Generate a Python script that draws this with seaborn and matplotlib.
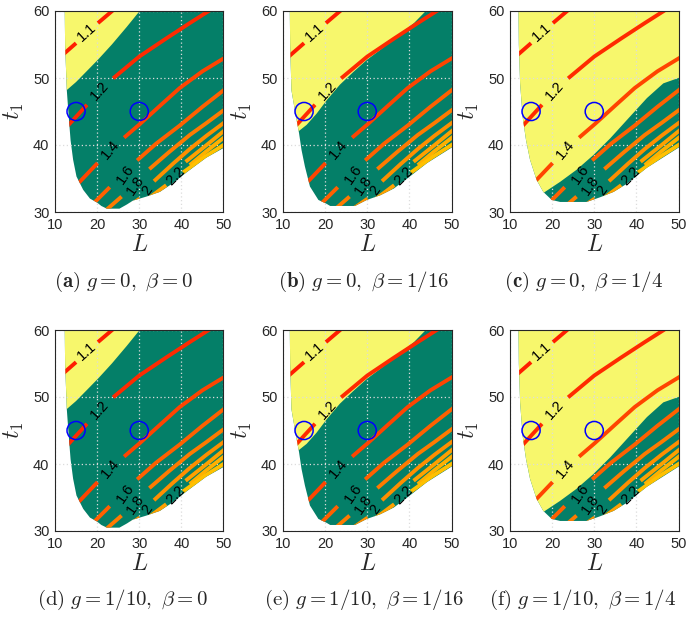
import matplotlib
matplotlib.use("Agg")
import numpy as np
import pandas as pd
import seaborn as sns
from matplotlib import pyplot as plt
from matplotlib.patches import Polygon

# contour segments (L, t1); gaps are where the labels sit
c1_1 = [[(11.0, 53.0), (15.0, 55.2)], [(20.2, 58.2), (24.5, 60.5)]]
c1_2 = [[(12.5, 42.5), (17.6, 46.0)],
        [(23.8, 49.95), (30.0, 53.2), (36.4, 55.9), (42.0, 58.2), (47.5, 60.4)]]
c1_4 = [[(14.5, 33.6), (20.1, 37.3)],
        [(26.4, 41.1), (30.1, 43.1), (35.0, 45.9), (39.6, 48.5), (45.0, 51.0), (50.5, 53.1)]]
c1_6 = [[(18.2, 30.7), (23.0, 33.7)],
        [(29.5, 37.7), (34.0, 40.2), (39.6, 42.9), (45.0, 45.7), (50.5, 48.4)]]
c1_8 = [[(21.6, 30.0), (25.8, 32.3)],
        [(32.4, 36.4), (37.0, 38.9), (42.0, 41.5), (46.0, 43.3), (50.5, 45.4)]]
c2_0 = [[(26.0, 30.2), (30.1, 32.0)],
        [(33.5, 34.6), (38.0, 37.2), (42.0, 39.4), (46.0, 41.4), (50.5, 43.5)]]
c2_2 = [[(31.5, 31.7), (36.4, 34.0)], [(41.0, 37.5), (46.0, 40.0), (50.5, 42.3)]]
c2_4 = [[(42.0, 37.0), (46.0, 39.1), (50.5, 41.3)]]
c2_6 = [[(40.4, 35.9), (45.5, 38.2), (50.5, 40.2)]]

level_names = ["1.1", "1.2", "1.4", "1.6", "1.8", "2", "2.2", "2.4", "2.6"]
level_colors = ["#ff1e00", "#ff2a00", "#ff4400", "#ff6000", "#ff7a00",
                "#ff8e00", "#ffa000", "#ffb000", "#ffc000"]

label_txt = ["1.1", "1.2", "1.4", "1.6", "1.8", "2", "2.2"]
label_L = [17.6, 20.7, 23.2, 26.6, 29.0, 31.9, 38.6]
label_t = [56.8, 48.1, 39.3, 35.6, 34.0, 33.2, 35.4]
label_rot = [42, 48, 50, 55, 55, 55, 45]

# feasible region outline per column (left edge top->bottom, then bottom edge)
dom1_L = [12.3, 12.4, 12.8, 13.2, 13.7, 14.3, 15.1, 16.7, 18.3, 20.0, 21.0, 22.3, 25.3, 27.0, 28.5, 31.7, 34.9, 38.0, 41.2, 45.9, 50.0, 51.0, 51.0]
dom1_t = [61.0, 55.0, 48.2, 44.7, 40.7, 37.8, 35.3, 33.3, 32.0, 31.4, 30.9, 30.5, 30.5, 31.1, 31.7, 32.3, 33.0, 34.3, 35.9, 38.1, 39.55, 40.0, 61.0]
dom2_L = [11.6, 11.7, 12.0, 13.0, 13.8, 14.4, 15.2, 16.4, 18.4, 20.4, 21.2, 27.1, 29.9, 33.1, 36.3, 39.5, 44.2, 50.0, 51.0, 51.0]
dom2_t = [61.0, 55.0, 48.2, 44.5, 41.8, 39.25, 36.8, 33.8, 31.8, 31.2, 30.9, 30.9, 31.8, 32.5, 33.5, 35.0, 37.3, 39.6, 40.0, 61.0]
dom3_L = [12.0, 12.1, 12.4, 13.0, 13.8, 14.75, 16.3, 17.9, 19.9, 21.9, 28.2, 31.4, 34.6, 37.7, 42.5, 50.0, 51.0, 51.0]
dom3_t = [61.0, 55.0, 49.2, 44.2, 40.75, 37.8, 34.8, 33.0, 31.8, 31.5, 31.5, 32.2, 33.0, 34.2, 36.6, 39.6, 40.0, 61.0]

# yellow / green border per column (yellow lies above it)
edge1_L = [11.0, 12.8, 15.0, 17.5, 20.3, 23.5, 27.0, 30.1, 30.6]
edge1_t = [48.0, 48.2, 49.4, 51.0, 52.8, 55.0, 57.6, 60.0, 60.6]
edge2_L = [11.0, 13.6, 15.6, 18.0, 20.4, 23.5, 26.7, 29.9, 33.1, 37.1, 41.1, 43.9, 45.0]
edge2_t = [41.6, 42.0, 43.0, 44.7, 46.7, 49.0, 50.9, 52.7, 54.2, 56.2, 58.2, 60.0, 60.6]
edge3_L = [15.5, 18.3, 21.9, 25.8, 29.8, 33.8, 37.7, 42.5, 46.4, 50.0, 51.0]
edge3_t = [31.5, 33.0, 34.5, 36.3, 38.5, 41.0, 43.7, 47.0, 49.2, 50.0, 50.4]

circle_L = [15, 30]
circle_t = [45, 45]

captions = [r"$\mathbf{(a)}\ g=0,\ \beta=0$",
            r"$\mathbf{(b)}\ g=0,\ \beta=1/16$",
            r"$\mathbf{(c)}\ g=0,\ \beta=1/4$",
            r"$\mathrm{(d)}\ g=1/10,\ \beta=0$",
            r"$\mathrm{(e)}\ g=1/10,\ \beta=1/16$",
            r"$\mathrm{(f)}\ g=1/10,\ \beta=1/4$"]

GREEN = "#047f68"
YELLOW = "#f7f76c"
DARK = "#262626"

sns.set_style("white")
plt.rcParams["font.family"] = ["Liberation Sans", "DejaVu Sans"]
plt.rcParams["mathtext.fontset"] = "cm"

# long table of contour segments for seaborn
rows = []
seg_id = 0
for name, segs in zip(level_names, [c1_1, c1_2, c1_4, c1_6, c1_8, c2_0, c2_2, c2_4, c2_6]):
    for seg in segs:
        for L, t in seg:
            rows.append({"L": L, "t": t, "level": name, "seg": seg_id})
        seg_id += 1
lines_df = pd.DataFrame(rows)
pal = dict(zip(level_names, level_colors))

domains = [(dom1_L, dom1_t), (dom2_L, dom2_t), (dom3_L, dom3_t)]
edges = [(edge1_L, edge1_t), (edge2_L, edge2_t), (edge3_L, edge3_t)]

fig = plt.figure(figsize=(6.92, 6.19), dpi=100)
col_left = [55 / 692, 283 / 692, 510 / 692]
row_bottom = [1 - 212 / 619, 1 - 531 / 619]
cap_x = [123 / 692, 364 / 692, 583 / 692]
cap_y = [1 - 282 / 619, 1 - 600 / 619]
w, h = 168.5 / 692, 201 / 619

for k in range(6):
    r, c = divmod(k, 3)
    ax = fig.add_axes([col_left[c], row_bottom[r], w, h])
    dL, dt = domains[c]
    dom = Polygon(np.column_stack([dL, dt]), closed=True, fc=GREEN, ec="none", zorder=1)
    ax.add_patch(dom)
    eL, et = edges[c]
    yl = list(eL) + [55, 55, 5, 5]
    yt = list(et) + [et[-1], 65, 65, et[0]]
    yel = Polygon(np.column_stack([yl, yt]), closed=True, fc=YELLOW, ec="none", zorder=1.5)
    ax.add_patch(yel)
    yel.set_clip_path(dom)

    n0 = len(ax.lines)
    sns.lineplot(data=lines_df, x="L", y="t", hue="level", units="seg",
                 estimator=None, sort=False, palette=pal, linewidth=2.8,
                 legend=False, zorder=3, ax=ax)
    for ln in ax.lines[n0:]:
        ln.set_clip_path(dom)
        ln.set_solid_capstyle("butt")

    for txt, L, t, rot in zip(label_txt, label_L, label_t, label_rot):
        ax.text(L, t, txt, rotation=rot, ha="center", va="center",
                fontsize=10.5, color="black", zorder=4, rotation_mode="anchor")

    sns.scatterplot(x=circle_L, y=circle_t, s=170, marker="o", fc="none",
                    ec="#0000ff", linewidth=1.1, zorder=5, ax=ax)

    ax.set_xlim(10, 50)
    ax.set_ylim(30, 60)
    ax.set_xticks([10, 20, 30, 40, 50])
    ax.set_yticks([30, 40, 50, 60])
    ax.grid(True, color="#dcdcdc", linestyle=(0, (1, 2)), linewidth=0.9)
    ax.set_axisbelow(False)
    ax.tick_params(direction="in", length=3, width=0.6, colors=DARK,
                   labelsize=10.5, pad=4)
    for s in ax.spines.values():
        s.set_color(DARK)
        s.set_linewidth(0.8)
        s.set_zorder(6)
    ax.set_xlabel(r"$L$", fontsize=17)
    ax.set_ylabel(r"$t_1$", fontsize=17)
    ax.xaxis.set_label_coords(0.5, -0.11)
    ax.yaxis.set_label_coords(-0.17, 0.5)
    fig.text(cap_x[c], cap_y[r], captions[k], ha="center", va="center", fontsize=15)

fig.savefig("out.png", dpi=100)
